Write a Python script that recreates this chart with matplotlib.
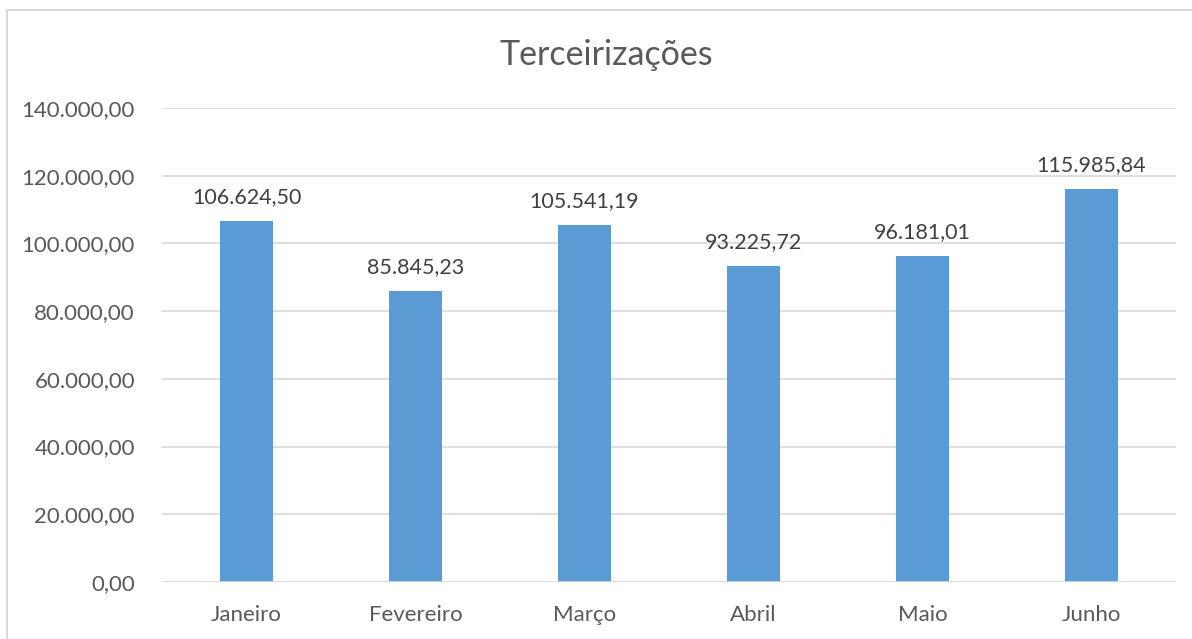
import matplotlib.pyplot as plt
from matplotlib.patches import Rectangle

plt.rcParams['font.family'] = ['Lato', 'DejaVu Sans']

months = ["Janeiro", "Fevereiro", "Março", "Abril", "Maio", "Junho"]
values = [106624.50, 85845.23, 105541.19, 93225.72, 96181.01, 115985.84]
yticks = [0, 20000, 40000, 60000, 80000, 100000, 120000, 140000]


def br(v):
    s = f"{v:,.2f}"
    return s.replace(",", "X").replace(".", ",").replace("X", ".")


fig = plt.figure(figsize=(11.92, 6.39), dpi=100)
fig.patches.append(Rectangle((7 / 1192, -0.01), 1.2, 1 - 10 / 639 + 0.01, transform=fig.transFigure,
                             fill=False, edgecolor="#D9D9D9", linewidth=1.5))
ax = fig.add_axes([162 / 1192, 1 - 582 / 639, (1176 - 162) / 1192, (582 - 108) / 639])

x = range(len(months))
ax.bar(x, values, width=0.315, color="#5B9BD5", zorder=3)
for i, v in zip(x, values):
    ax.text(i, v + 7100, br(v), ha="center", va="center", fontsize=15.5, color="#404040")

ax.set_xlim(-0.5, len(months) - 0.5)
ax.set_ylim(0, 140000)
ax.set_yticks(yticks, [br(t) for t in yticks])
ax.set_xticks(list(x), months)
ax.tick_params(length=0, labelsize=16, labelcolor="#595959")
ax.tick_params(axis="y", pad=19.5)
ax.tick_params(axis="x", pad=16.5)
ax.grid(axis="y", color="#D9D9D9", linewidth=1.2, zorder=0)
for s in ax.spines.values():
    s.set_visible(False)
ax.axhline(0, color="#D9D9D9", linewidth=1.2, zorder=4)

fig.text(606 / 1192, 1 - 55 / 639, "Terceirizações", ha="center", va="center", fontsize=24.5, color="#595959")

fig.savefig("out.png", dpi=100)
